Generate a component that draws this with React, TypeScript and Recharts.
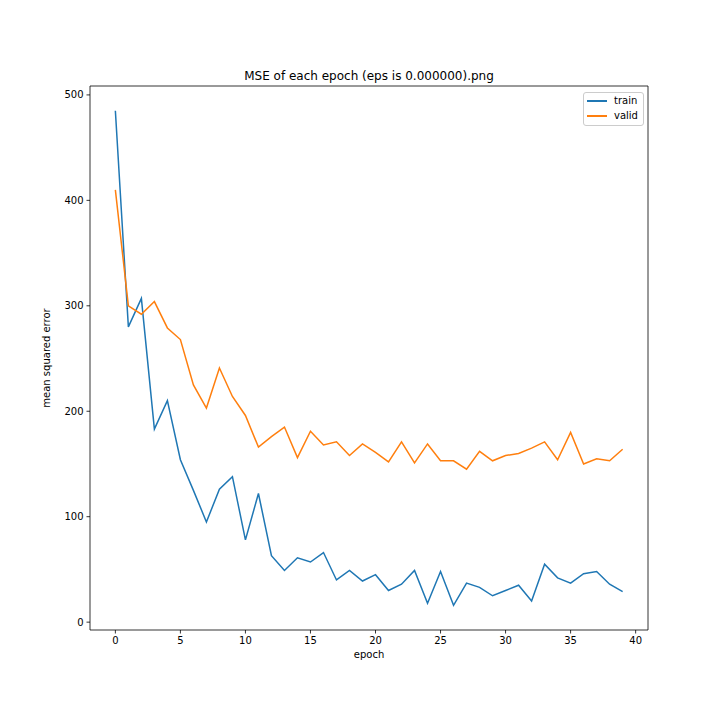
import React from 'react';
import { LineChart, Line, XAxis, YAxis, Legend, ReferenceLine } from 'recharts';

const epochs = [0, 1, 2, 3, 4, 5, 6, 7, 8, 9, 10, 11, 12, 13, 14, 15, 16, 17, 18, 19, 20, 21, 22, 23, 24, 25, 26, 27, 28, 29, 30, 31, 32, 33, 34, 35, 36, 37, 38, 39];
const trainMse = [485, 280, 307, 183, 210, 154, 125, 95, 126, 138, 78, 122, 63, 49, 61, 57, 66, 40, 49, 39, 45, 30, 36, 49, 18, 48, 16, 37, 33, 25, 30, 35, 20, 55, 42, 37, 46, 48, 36, 29];
const validMse = [410, 300, 292, 304, 279, 268, 225, 203, 241, 214, 196, 166, 176, 185, 156, 181, 168, 171, 158, 169, 161, 152, 171, 151, 169, 153, 153, 145, 162, 153, 158, 160, 165, 171, 154, 180, 150, 155, 153, 164];
const xTicks = [0, 5, 10, 15, 20, 25, 30, 35, 40];
const yTicks = [0, 100, 200, 300, 400, 500];
const seriesNames = ['train', 'valid'];
const seriesColors = ['#1f77b4', '#ff7f0e'];
const title = 'MSE of each epoch (eps is 0.000000).png';
const xLabel = 'epoch';
const yLabel = 'mean squared error';

const data = epochs.map((e, i) => ({ epoch: e, train: trainMse[i], valid: validMse[i] }));

const FONT = '"DejaVu Sans", sans-serif';

const renderLegend = () => (
  <div
    style={{
      border: '1px solid #cccccc',
      borderRadius: 3,
      background: 'rgba(255,255,255,0.8)',
      padding: '0px 5px 2px 3px',
      fontFamily: FONT,
      fontSize: 10,
      color: '#000',
      boxSizing: 'border-box',
      width: 61,
    }}
  >
    {seriesNames.map((n, i) => (
      <div key={n} style={{ display: 'flex', alignItems: 'center', height: 15 }}>
        <div style={{ width: 20, height: 2, background: seriesColors[i], marginRight: 7 }} />
        <span>{n}</span>
      </div>
    ))}
  </div>
);

export default function App() {
  const ymin = Math.min(...trainMse, ...validMse);
  const ymax = Math.max(...trainMse, ...validMse);
  const ypad = (ymax - ymin) * 0.05;
  const xpad = (epochs[epochs.length - 1] - epochs[0]) * 0.05;
  const xDomain = [epochs[0] - xpad, epochs[epochs.length - 1] + xpad];
  const yDomain = [ymin - ypad, ymax + ypad];
  const tickStyle = { fontSize: 10, fill: '#000', fontFamily: FONT };
  return (
    <div style={{ position: 'absolute', left: 0, top: 0, width: 720, height: 720, background: '#fff' }}>
      <LineChart width={720} height={720} data={data} margin={{ top: 86, right: 72, left: 0, bottom: 0 }}>
        <XAxis
          dataKey="epoch"
          type="number"
          domain={xDomain}
          ticks={xTicks}
          allowDataOverflow
          height={90}
          tickSize={3.5}
          tickMargin={3.5}
          tick={tickStyle}
          axisLine={{ stroke: '#000', strokeWidth: 0.8 }}
          tickLine={{ stroke: '#000', strokeWidth: 0.8 }}
        />
        <YAxis
          type="number"
          domain={yDomain}
          ticks={yTicks}
          allowDataOverflow
          width={90}
          tickSize={3.5}
          tickMargin={3}
          tick={tickStyle}
          axisLine={{ stroke: '#000', strokeWidth: 0.8 }}
          tickLine={{ stroke: '#000', strokeWidth: 0.8 }}
        />
        <ReferenceLine y={yDomain[1]} stroke="#000" strokeWidth={0.8} ifOverflow="visible" />
        <ReferenceLine x={xDomain[1]} stroke="#000" strokeWidth={0.8} ifOverflow="visible" />
        <Legend
          layout="vertical"
          align="center"
          verticalAlign="middle"
          content={renderLegend}
          wrapperStyle={{ position: 'absolute', top: 92, left: 583, width: 61, height: 32 }}
        />
        {seriesNames.map((n, i) => (
          <Line
            key={n}
            type="linear"
            dataKey={n}
            name={n}
            stroke={seriesColors[i]}
            strokeWidth={1.5}
            dot={false}
            activeDot={false}
            isAnimationActive={false}
          />
        ))}
      </LineChart>
      <svg width={720} height={720} style={{ position: 'absolute', left: 0, top: 0, pointerEvents: 'none' }}>
        <text x={369} y={80} textAnchor="middle" fontFamily={FONT} fontSize={12} fill="#000">
          {title}
        </text>
        <text x={369} y={658} textAnchor="middle" fontFamily={FONT} fontSize={10} fill="#000">
          {xLabel}
        </text>
        <text
          x={46}
          y={358}
          dy="0.35em"
          textAnchor="middle"
          fontFamily={FONT}
          fontSize={10}
          fill="#000"
          transform="rotate(-90, 46, 358)"
        >
          {yLabel}
        </text>
      </svg>
    </div>
  );
}
